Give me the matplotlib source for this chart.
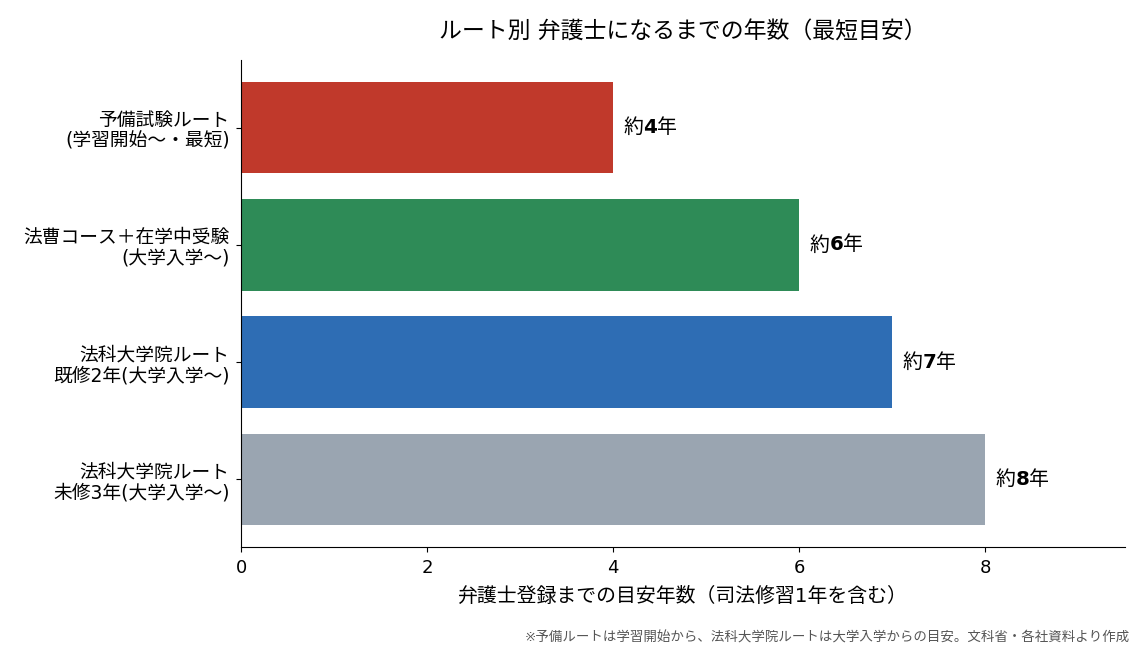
import matplotlib.pyplot as plt

plt.rcParams['font.family'] = ['DejaVu Sans', 'Noto Sans CJK JP']

# Routes (top to bottom) and years to registration
routes = [
    '予備試験ルート\n(学習開始〜・最短)',
    '法曹コース＋在学中受験\n(大学入学〜)',
    '法科大学院ルート\n既修2年(大学入学〜)',
    '法科大学院ルート\n未修3年(大学入学〜)',
]
years = [4, 6, 7, 8]
colors = ['#C0392B', '#2E8B57', '#2E6DB4', '#9AA5B1']

fig, ax = plt.subplots(figsize=(11.44, 6.5), dpi=100)
fig.subplots_adjust(left=0.211, right=0.983, top=0.908, bottom=0.158)

pos = list(range(len(routes)))
ax.barh(pos, years, color=colors, height=0.78)
ax.set_yticks(pos)
ax.set_yticklabels(routes, fontsize=13.5, linespacing=1.15)
ax.invert_yaxis()
ax.set_xlim(0, 9.5)
ax.set_xticks([0, 2, 4, 6, 8])
ax.tick_params(axis='x', labelsize=13, pad=5)
ax.tick_params(axis='y', pad=5)

ax.spines['top'].set_visible(False)
ax.spines['right'].set_visible(False)

ax.set_title('ルート別 弁護士になるまでの年数（最短目安）', fontsize=16.5, pad=15)
ax.set_xlabel('弁護士登録までの目安年数（司法修習1年を含む）', fontsize=14.3, labelpad=7)

# value labels: "約" + bold number + "年"
fig.canvas.draw()
renderer = fig.canvas.get_renderer()
off = 7.5
for p, v in zip(pos, years):
    t1 = ax.annotate('約', xy=(v, p), xytext=(off, 0), textcoords='offset points',
                     va='center', ha='left', fontsize=14.3)
    w1 = t1.get_window_extent(renderer).width * 72 / fig.dpi
    t2 = ax.annotate(str(v), xy=(v, p), xytext=(off + w1, 0), textcoords='offset points',
                     va='center', ha='left', fontsize=14.3, fontweight='bold')
    w2 = t2.get_window_extent(renderer).width * 72 / fig.dpi
    ax.annotate('年', xy=(v, p), xytext=(off + w1 + w2, 0), textcoords='offset points',
                va='center', ha='left', fontsize=14.3)

fig.text(0.988, 0.008, '※予備ルートは学習開始から、法科大学院ルートは大学入学からの目安。文科省・各社資料より作成',
         ha='right', va='bottom', fontsize=9.7, color='#555555')

fig.savefig('out.png', dpi=100)
